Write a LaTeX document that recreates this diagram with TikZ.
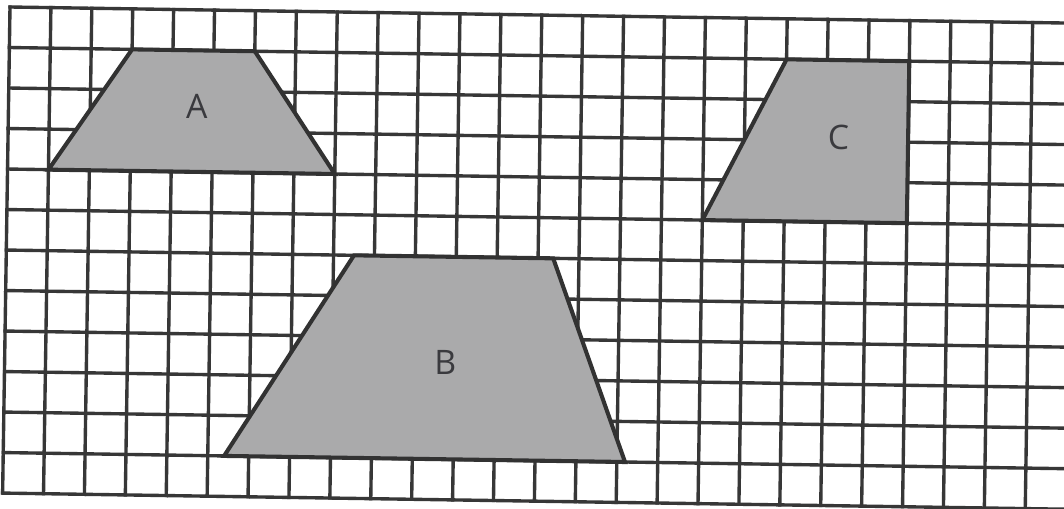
\documentclass[tikz,border=0pt]{standalone}
\usepackage{fontspec}
\setsansfont{Open Sans}
\definecolor{gridcol}{RGB}{55,55,55}
\definecolor{shapefill}{RGB}{170,170,171}
\definecolor{edgecol}{RGB}{50,50,50}
\definecolor{labelcol}{RGB}{58,58,62}
\begin{document}
\begin{tikzpicture}[x=0.025cm,y=-0.025cm,
  gridline/.style={draw=gridcol,line width=2.4pt,line cap=rect},
  trap/.style={fill=shapefill,draw=edgecol,line width=2.9pt,line join=miter},
  lbl/.style={text=labelcol,font=\sffamily\fontsize{24}{24}\selectfont,inner sep=0pt}]
\useasboundingbox (0,0) rectangle (1064,508);
\fill[white] (0,0) rectangle (1064,508);
\clip (0,0) rectangle (1064,508);
\begin{scope}[shift={(10,7)},rotate=-0.87,x=1.0225cm,y=-1.0125cm]
  % grid
  \foreach \j in {0,...,12} \draw[gridline] (0,\j) -- (26.6,\j);
  \foreach \i in {0,...,26} \draw[gridline] (\i,0) -- (\i,12);
  % shapes
  \draw[trap] (1,4) -- (3,1) -- (6,1) -- (8,4) -- cycle;
  \draw[trap] (5.4,11) -- (8.5,6) -- (13.37,6) -- (15.2,11) -- cycle;
  \draw[trap] (17,5) -- (19,1) -- (22,1) -- (22,5) -- cycle;
  % labels
  \node[lbl] (lblA) at (4.6,2.38) {A};
  \node[lbl] (lblB) at (10.77,8.6) {B};
  \node[lbl] (lblC) at (20.3,2.92) {C};
\end{scope}
\end{tikzpicture}
\end{document}
